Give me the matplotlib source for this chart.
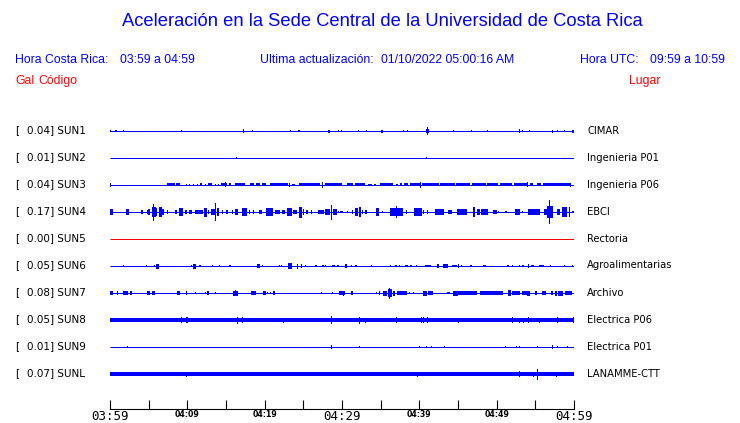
import matplotlib
matplotlib.use("Agg")
import matplotlib.pyplot as plt
import numpy as np

# ---------------- data ----------------
codes = ["SUN1", "SUN2", "SUN3", "SUN4", "SUN5", "SUN6", "SUN7", "SUN8", "SUN9", "SUNL"]
places = ["CIMAR", "Ingenieria P01", "Ingenieria P06", "EBCI", "Rectoria",
          "Agroalimentarias", "Archivo", "Electrica P06", "Electrica P01", "LANAMME-CTT"]
peak_gal = [0.04, 0.01, 0.04, 0.17, 0.00, 0.05, 0.08, 0.05, 0.01, 0.07]

# minutes after 03:59
tick_minutes = [0, 5, 10, 15, 20, 25, 30, 35, 40, 45, 50, 55, 60]
tick_labels = ["03:59", "", "04:09", "", "04:19", "", "04:29", "", "04:39", "", "04:49", "", "04:59"]
major_labels = ["03:59", "04:29", "04:59"]

# bursts per station: (start minute, end minute, half amplitude in screen px)
sun1 = [(0.0, 0.13, 1.3), (0.7, 0.9, 1.0), (1.8, 1.8, 1.3), (9.3, 9.3, 1.3), (17.2, 17.2, 2.3),
        (18.4, 18.4, 1.3), (23.3, 23.3, 1.3), (24.3, 24.6, 1.0), (28.2, 28.5, 1.5), (29.6, 29.6, 1.3),
        (29.9, 29.9, 1.3), (32.1, 32.1, 1.3), (33.2, 33.2, 1.0), (35.0, 35.3, 1.5), (37.9, 37.9, 1.0),
        (38.5, 38.5, 1.3), (40.8, 41.3, 2.0), (41.0, 41.0, 3.7), (44.4, 44.4, 1.0), (46.8, 46.8, 1.3),
        (48.8, 48.8, 1.0), (52.9, 52.9, 2.3), (53.3, 53.3, 1.3), (54.3, 54.3, 1.0), (57.2, 57.2, 1.5),
        (57.9, 57.9, 1.0), (58.8, 58.8, 1.0), (59.8, 60.0, 1.5)]
sun2 = [(16.4, 16.4, 1.3), (40.9, 40.9, 1.3)]
sun3 = [(0.0, 0.1, 2.0), (7.4, 8.4, 1.5), (8.5, 9.1, 1.5), (9.8, 9.9, 1.0), (10.2, 10.3, 1.0),
        (10.7, 10.8, 1.0), (11.3, 11.4, 1.0), (11.6, 11.9, 1.5), (12.3, 12.4, 1.0), (12.7, 13.2, 1.5),
        (13.6, 13.7, 1.0), (14.0, 14.1, 1.0), (14.4, 15.1, 1.5), (14.9, 14.9, 2.5), (15.4, 15.7, 1.5),
        (16.2, 17.4, 1.5), (18.1, 18.6, 1.5), (18.9, 19.4, 1.5), (19.7, 20.2, 1.5), (20.7, 23.0, 1.5),
        (23.2, 23.2, 2.0), (23.5, 23.9, 1.0), (24.4, 27.2, 1.5), (27.5, 27.5, 3.0), (27.8, 30.0, 1.5),
        (30.6, 31.4, 1.5), (31.7, 33.0, 1.5), (33.4, 33.9, 1.0), (34.1, 34.4, 1.0), (34.9, 36.6, 1.5),
        (37.0, 37.2, 1.0), (37.5, 37.8, 1.5), (38.0, 38.5, 1.5), (38.8, 40.1, 1.5), (40.2, 40.2, 3.0),
        (40.3, 42.5, 1.5), (42.7, 44.6, 1.5), (44.8, 46.6, 1.5), (46.8, 48.6, 1.5), (48.8, 50.2, 1.5),
        (50.4, 52.0, 1.5), (52.2, 53.9, 1.5), (54.0, 54.0, 2.5), (54.3, 54.7, 1.5), (55.2, 55.7, 1.5),
        (56.0, 59.5, 1.5), (59.5, 59.5, 2.0)]
sun4 = [(0.0, 0.4, 3), (2.1, 2.5, 3), (4.0, 4.3, 2), (4.8, 4.9, 2), (4.9, 5.2, 3), (5.4, 5.9, 5),
        (5.6, 5.6, 8.5), (5.9, 6.1, 4), (6.3, 6.7, 5), (6.7, 7.0, 3), (7.4, 7.4, 2), (8.4, 8.7, 2),
        (8.9, 9.4, 4), (9.7, 10.0, 2), (10.2, 10.6, 2), (11.0, 12.0, 2), (12.2, 12.5, 4.5),
        (12.7, 12.7, 2), (13.1, 13.6, 3), (13.7, 13.7, 8.7), (13.8, 14.1, 4), (14.5, 14.5, 2),
        (15.0, 15.3, 2), (15.8, 15.9, 2), (16.2, 16.6, 3), (17.1, 17.7, 4), (18.0, 18.0, 2),
        (18.6, 18.6, 2), (19.3, 19.7, 2), (20.2, 21.1, 4), (21.3, 22.0, 2), (22.2, 22.6, 2),
        (22.9, 23.5, 4), (23.7, 24.2, 2), (24.4, 24.8, 5.5), (25.0, 25.1, 3), (25.3, 25.6, 2),
        (26.0, 26.0, 2), (26.9, 27.7, 2), (27.8, 28.5, 3), (28.7, 28.7, 7.5), (28.8, 29.4, 3),
        (29.6, 29.6, 1), (29.7, 30.1, 1), (30.6, 30.8, 1), (31.3, 31.4, 2), (31.7, 32.1, 4),
        (32.2, 32.5, 5), (32.6, 32.6, 2), (33.0, 33.2, 2), (34.4, 34.8, 4), (35.3, 35.3, 1),
        (36.2, 37.9, 4), (37.0, 37.0, 6), (38.3, 38.3, 2), (39.3, 40.3, 4), (40.5, 40.5, 2),
        (41.1, 41.1, 2), (42.0, 43.2, 3), (43.7, 44.2, 2), (44.9, 46.2, 3), (46.9, 47.2, 5),
        (47.5, 47.8, 3), (48.0, 48.9, 3), (49.5, 50.0, 2), (50.2, 50.2, 1), (51.1, 51.3, 1),
        (52.4, 53.0, 3), (53.4, 53.4, 1), (54.1, 55.6, 3), (56.1, 56.6, 3), (56.5, 57.3, 6),
        (56.8, 56.8, 11.7), (57.8, 58.2, 3), (58.5, 59.1, 5), (59.4, 59.4, 5), (59.7, 60.0, 1)]
sun5 = []
sun6 = [(1.7, 1.7, 1.0), (4.7, 4.7, 1.2), (5.7, 5.7, 1.2), (5.9, 6.3, 2.5), (10.5, 10.5, 1.2),
        (10.7, 11.1, 2.5), (11.5, 11.8, 1.2), (13.2, 13.3, 1.2), (14.2, 14.2, 1.2), (15.4, 15.7, 1.2),
        (19.0, 19.4, 2.0), (19.7, 19.7, 1.2), (21.9, 21.9, 1.2), (22.2, 22.2, 1.2), (23.0, 23.5, 2.7),
        (23.3, 23.3, 3.3), (24.2, 24.3, 2.5), (24.8, 24.8, 2.0), (25.3, 25.3, 1.2), (26.5, 26.8, 1.2),
        (27.4, 27.7, 1.2), (27.9, 27.9, 1.0), (28.7, 29.1, 1.2), (29.4, 29.4, 1.2), (29.6, 29.6, 1.0),
        (30.4, 30.7, 2.0), (31.2, 31.2, 1.0), (31.7, 31.9, 1.2), (33.8, 33.8, 1.0), (36.2, 36.3, 1.2),
        (36.9, 37.1, 1.2), (37.4, 37.4, 1.0), (38.2, 38.5, 1.2), (38.8, 39.1, 1.2), (39.6, 39.6, 1.2),
        (40.7, 41.5, 1.2), (42.3, 42.5, 2.0), (43.1, 43.7, 2.0), (44.2, 44.9, 1.2), (45.1, 45.1, 2.0),
        (45.5, 45.5, 1.0), (46.5, 46.8, 1.2), (48.2, 48.6, 1.2), (51.3, 51.6, 1.0), (52.0, 52.0, 1.0),
        (52.9, 52.9, 1.0), (53.3, 53.5, 1.2), (54.1, 54.2, 2.0), (54.4, 54.8, 1.2), (55.5, 56.1, 1.2),
        (57.0, 57.0, 1.0), (58.8, 58.8, 1.0), (59.8, 59.8, 1.2)]
sun7 = [(0.0, 0.4, 1.7), (0.9, 1.0, 1.7), (1.7, 2.3, 1.7), (2.6, 2.8, 1.7), (4.8, 5.2, 1.7),
        (5.4, 5.8, 1.7), (8.7, 9.1, 1.7), (9.8, 10.0, 1.7), (11.1, 11.1, 1.0), (12.3, 12.3, 1.0),
        (12.5, 12.8, 1.7), (13.6, 13.6, 1.0), (15.9, 16.5, 2.5), (16.2, 16.2, 3.3), (18.2, 18.9, 1.7),
        (19.8, 20.2, 1.7), (20.4, 20.4, 1.0), (20.8, 20.8, 1.0), (21.1, 21.3, 1.7), (27.4, 27.4, 1.0),
        (28.8, 28.8, 1.0), (29.6, 30.4, 1.7), (30.2, 30.2, 2.5), (31.2, 31.4, 1.7), (34.5, 34.5, 1.0),
        (34.9, 34.9, 1.7), (35.3, 35.8, 2.5), (36.0, 36.5, 4.0), (36.2, 36.2, 5.5), (36.6, 36.9, 2.5),
        (37.1, 38.4, 1.7), (38.7, 38.7, 1.0), (39.3, 39.3, 1.0), (40.5, 41.0, 2.5), (41.1, 41.8, 1.7),
        (43.6, 44.0, 1.0), (44.4, 45.0, 2.5), (45.0, 47.5, 1.7), (47.8, 50.8, 1.7), (51.5, 51.9, 3.3),
        (52.0, 53.0, 1.7), (53.3, 53.9, 1.7), (53.9, 54.3, 2.5), (55.0, 55.2, 1.7), (55.9, 56.4, 1.7),
        (57.0, 57.3, 1.7), (57.5, 57.8, 2.5), (57.9, 58.6, 2.5), (58.8, 59.7, 1.7)]
sun8 = [(9.3, 9.3, 3.0), (9.8, 10.1, 3.0), (16.4, 16.6, 3.5), (17.1, 17.1, 3.0), (22.4, 22.4, 2.5),
        (28.7, 28.7, 3.7), (32.3, 32.3, 3.5), (33.1, 33.1, 2.5), (37.1, 37.1, 3.0), (40.3, 40.3, 3.0),
        (40.6, 40.6, 3.0), (41.0, 41.0, 3.0), (45.1, 45.1, 2.5), (52.1, 52.1, 3.0), (52.9, 52.9, 2.5),
        (53.5, 53.5, 2.5), (54.1, 54.1, 3.0), (55.5, 55.5, 2.5), (57.9, 57.9, 3.0), (59.9, 59.9, 3.0)]
sun9 = [(2.3, 2.3, 1.3), (28.7, 28.7, 2.0), (32.2, 32.2, 1.3), (40.0, 40.0, 1.0), (40.9, 40.9, 1.0),
        (41.6, 41.6, 1.0), (43.2, 43.2, 1.3), (51.2, 51.2, 1.0), (52.6, 52.6, 1.0), (52.9, 52.9, 1.0),
        (55.3, 55.3, 1.3), (57.1, 57.3, 2.0), (57.9, 57.9, 1.3), (59.2, 59.2, 1.0)]
sunl = [(9.9, 9.9, 2.5), (39.8, 39.8, 2.5), (42.7, 42.7, 2.3), (52.9, 53.0, 2.8), (54.7, 54.7, 2.5),
        (55.3, 55.3, 5.5), (57.8, 57.8, 2.5)]
bursts = [sun1, sun2, sun3, sun4, sun5, sun6, sun7, sun8, sun9, sunl]

# ---------------- style ----------------
W, H = 740, 423
BLUE = "#0000ff"
RED = "#ff0000"
trace_colors = [BLUE, BLUE, BLUE, BLUE, RED, BLUE, BLUE, BLUE, BLUE, BLUE]
thick_rows = [False, False, False, False, False, False, False, True, False, True]

fig = plt.figure(figsize=(W / 100, H / 100), dpi=100)
fig.patch.set_facecolor("white")


def fx(px):
    return px / W


def fy(py):
    return 1 - py / H


x0_px, x1_px, top_px, bot_px = 110, 574, 115, 409
ax = fig.add_axes([fx(x0_px), fy(bot_px), (x1_px - x0_px) / W, (bot_px - top_px) / H])
ax.set_xlim(0, 60)
ax.set_ylim(bot_px, top_px)
for s in ["top", "right", "left"]:
    ax.spines[s].set_visible(False)
ax.spines["bottom"].set_linewidth(0.8)
ax.set_yticks([])
ax.set_xticks(tick_minutes)
ax.set_xticklabels(tick_labels)
ax.tick_params(axis="x", direction="in", length=6.5, width=0.8, pad=1.0)
for lbl in ax.get_xticklabels():
    if lbl.get_text() in major_labels:
        lbl.set_fontfamily("DejaVu Sans Mono")
        lbl.set_fontsize(9)
    else:
        lbl.set_fontfamily("DejaVu Sans")
        lbl.set_fontsize(5.6)
        lbl.set_fontweight("bold")

min_w = 60 / (x1_px - x0_px)  # one pixel in minutes
for i, (ev, col, thick) in enumerate(zip(bursts, trace_colors, thick_rows)):
    yb = round(130.7 + 27.07 * i) - 0.5
    if thick:
        ax.broken_barh([(0, 60)], (yb - 1.5, 4), facecolors=col, linewidth=0, antialiased=False)
    else:
        ax.hlines(yb + 0.5, 0, 60, colors=col, lw=0.72, antialiased=True)
    if ev:
        t0 = np.array([e[0] for e in ev])
        t1 = np.array([e[1] for e in ev])
        amp = np.array([e[2] for e in ev])
        width = np.maximum(t1 - t0, min_w)
        centers = (t0 + t1) / 2
        ax.bar(centers, 2 * amp, width=width, bottom=yb + 0.5 - amp, color=col,
               linewidth=0, antialiased=False, clip_on=False)
    fig.text(fx(15), fy(yb), "[", fontsize=7.5, va="center", ha="left", family="DejaVu Sans")
    fig.text(fx(27), fy(yb), f"{peak_gal[i]:.2f}] {codes[i]}", fontsize=7.5, va="center",
             ha="left", family="DejaVu Sans")
    fig.text(fx(587), fy(yb), places[i], fontsize=7.2, va="center", ha="left", family="DejaVu Sans")

# ---------------- header ----------------
hf = "Liberation Sans"
fig.text(fx(382), fy(22), "Aceleración en la Sede Central de la Universidad de Costa Rica",
         fontsize=13.2, color=BLUE, ha="center", va="center", family=hf)
fs = 8.8
fig.text(fx(15), fy(60), "Hora Costa Rica:", fontsize=fs, color=BLUE, va="center", family=hf)
fig.text(fx(120), fy(60), "03:59 a 04:59", fontsize=fs, color=BLUE, va="center", family=hf)
fig.text(fx(260), fy(60), "Ultima actualización:", fontsize=fs, color=BLUE, va="center", family=hf)
fig.text(fx(381), fy(60), "01/10/2022 05:00:16 AM", fontsize=fs, color=BLUE, va="center", family=hf)
fig.text(fx(580), fy(60), "Hora UTC:", fontsize=fs, color=BLUE, va="center", family=hf)
fig.text(fx(650), fy(60), "09:59 a 10:59", fontsize=fs, color=BLUE, va="center", family=hf)
fig.text(fx(15), fy(81), "Gal", fontsize=fs, color=RED, va="center", family=hf)
fig.text(fx(38), fy(81), "Código", fontsize=fs, color=RED, va="center", family=hf)
fig.text(fx(629), fy(81), "Lugar", fontsize=fs, color=RED, va="center", family=hf)

fig.savefig("out.png", dpi=100, facecolor="white")
